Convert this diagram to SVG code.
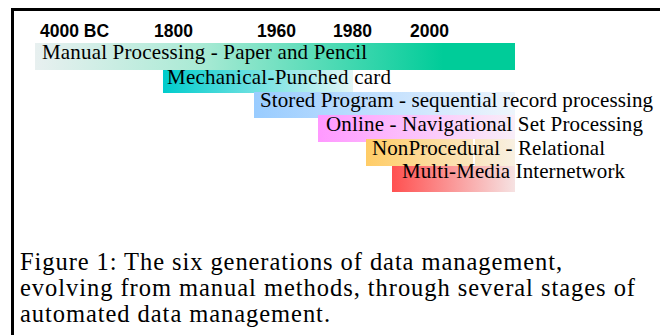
<svg xmlns="http://www.w3.org/2000/svg" width="660" height="335" viewBox="0 0 660 335">
<style>
.yr{font-family:"Liberation Sans",Arial,sans-serif;font-weight:bold;font-size:17.5px;fill:#000}
.lb{font-family:"Liberation Serif","Times New Roman",serif;font-size:21px;fill:#000}
.cap{font-family:"Liberation Serif","Times New Roman",serif;font-size:24.5px;fill:#000}
</style>
<defs>
<linearGradient id="g1" x1="0" x2="1" y1="0" y2="0"><stop offset="0" stop-color="#e8f0f0"/><stop offset="0.35" stop-color="#a8ead4"/><stop offset="0.85" stop-color="#00cc99"/><stop offset="1" stop-color="#00cc99"/></linearGradient>
<linearGradient id="g2" x1="0" x2="1" y1="0" y2="0"><stop offset="0" stop-color="#00cccc"/><stop offset="1" stop-color="#e4f6f6"/></linearGradient>
<linearGradient id="g3" x1="0" x2="1" y1="0" y2="0"><stop offset="0" stop-color="#99ccff"/><stop offset="1" stop-color="#eef5fc"/></linearGradient>
<linearGradient id="g4" x1="0" x2="1" y1="0" y2="0"><stop offset="0" stop-color="#ff99ff"/><stop offset="1" stop-color="#f8eef8"/></linearGradient>
<linearGradient id="g5" x1="0" x2="1" y1="0" y2="0"><stop offset="0" stop-color="#ffcc66"/><stop offset="1" stop-color="#f8f0e2"/></linearGradient>
<linearGradient id="g6" x1="0" x2="1" y1="0" y2="0"><stop offset="0" stop-color="#ff5050"/><stop offset="1" stop-color="#f6e2e2"/></linearGradient>
</defs>
<rect width="660" height="335" fill="#fff"/>
<g id="frame"><path d="M12.5,340 V9.5 H665" fill="none" stroke="#000" stroke-width="3"/></g>
<g id="years">
<text class="yr" x="40" y="37">4000 BC</text>
<text class="yr" x="154" y="37">1800</text>
<text class="yr" x="257" y="37">1960</text>
<text class="yr" x="333" y="37">1980</text>
<text class="yr" x="410" y="37">2000</text>
</g>
<g id="manual"><rect x="35" y="43" width="480" height="27" fill="url(#g1)"/><text class="lb" x="42" y="59" textLength="325">Manual Processing - Paper and Pencil</text></g>
<g id="mechanical"><rect x="163" y="70" width="190" height="23" fill="url(#g2)"/><text class="lb" x="167" y="84" textLength="224">Mechanical-Punched card</text></g>
<g id="stored"><rect x="254" y="92" width="261" height="26" fill="url(#g3)"/><text class="lb" x="260" y="107" textLength="393">Stored Program - sequential record processing</text></g>
<g id="online"><rect x="318" y="115" width="197" height="27" fill="url(#g4)"/><text class="lb" x="326" y="131" textLength="317">Online - Navigational Set Processing</text></g>
<g id="nonprocedural"><rect x="366" y="139" width="149" height="27" fill="url(#g5)"/><rect x="473" y="139" width="2" height="27" fill="#fff"/><text class="lb" x="372" y="155" textLength="233">NonProcedural - Relational</text></g>
<g id="multimedia"><rect x="392" y="166" width="123" height="26" fill="url(#g6)"/><text class="lb" x="402" y="178" textLength="223">Multi-Media Internetwork</text></g>
<g id="caption">
<text class="cap" x="20" y="270" textLength="542">Figure 1: The six generations of data management,</text>
<text class="cap" x="20" y="296" textLength="615">evolving from manual methods, through several stages of</text>
<text class="cap" x="20" y="322" textLength="310">automated data management.</text>
</g>
</svg>
